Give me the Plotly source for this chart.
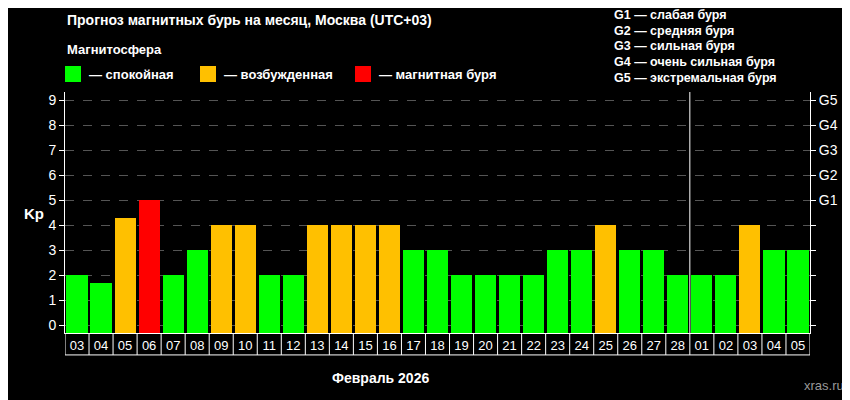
import plotly.graph_objects as go

days = ["03","04","05","06","07","08","09","10","11","12","13","14","15","16","17","18","19","20","21","22","23","24","25","26","27","28","01","02","03","04","05"]
kp = [2,1.7,4.3,5,2,3,4,4,2,2,4,4,4,4,3,3,2,2,2,2,3,3,4,3,3,2,2,2,4,3,3]
g_labels = ["G1","G2","G3","G4","G5"]
g_desc = ["G1 — слабая буря","G2 — средняя буря","G3 — сильная буря","G4 — очень сильная буря","G5 — экстремальная буря"]

BASE = -0.32
def col(v):
    if v >= 5: return "#ff0000"
    if v >= 4: return "#ffc000"
    return "#00ff00"

x = list(range(len(days)))
fig = go.Figure()
fig.add_trace(go.Bar(x=x, y=[v - BASE for v in kp], base=BASE, width=0.88,
                     marker=dict(color=[col(v) for v in kp], line=dict(width=0)), showlegend=False))
fig.add_trace(go.Scatter(x=[0], y=[0], yaxis="y2", mode="markers", marker=dict(opacity=0), showlegend=False, hoverinfo="skip"))

F = "Liberation Sans, Arial"
fig.update_layout(
    width=842, height=392, paper_bgcolor="black", plot_bgcolor="black",
    margin=dict(l=57, r=40, t=84, b=67), font=dict(family=F, color="white", size=13),
    bargap=0,
    xaxis=dict(range=[-0.5, len(days)-0.5], tickvals=x, ticktext=days, showgrid=False,
               ticks="", zeroline=False, tickfont=dict(size=13, color="white"), showline=True, linecolor="white"),
    yaxis=dict(range=[-0.32, 9.32], tickvals=list(range(10)), showgrid=True, gridcolor="#555",
               griddash="dash", zeroline=False, showline=True, linecolor="white", ticks="outside",
               ticklen=5, tickcolor="white", tickfont=dict(size=14, color="white")),
    yaxis2=dict(range=[-0.32, 9.32], overlaying="y", side="right", tickvals=list(range(10)),
                ticktext=[""]*5 + g_labels, showgrid=False, zeroline=False, showline=True, linecolor="white",
                ticks="outside", ticklen=5, tickcolor="white", tickfont=dict(size=14, color="white")),
)

shapes = []
shapes.append(dict(type="line", xref="x", yref="paper", x0=25.5, x1=25.5, y0=0, y1=1, line=dict(color="white", width=1)))
for i in range(len(days)+1):
    shapes.append(dict(type="line", xref="x", yref="paper", x0=i-0.5, x1=i-0.5, y0=0, y1=-0.091, line=dict(color="white", width=1)))
shapes.append(dict(type="line", xref="paper", yref="paper", x0=0, x1=1, y0=-0.091, y1=-0.091, line=dict(color="white", width=1)))
for px, c in [(65, "#00ff00"), (200, "#ffc000"), (355, "#ff0000")]:
    shapes.append(dict(type="rect", xref="paper", yref="paper",
                       x0=(px-65)/745, x1=(px-65+16)/745, y0=(333-82)/241, y1=(333-66)/241,
                       fillcolor=c, line=dict(width=0)))
fig.update_layout(shapes=shapes)

def pann(px, py, text, size=13, bold=True, color="white", xanchor="left"):
    fig.add_annotation(xref="paper", yref="paper", x=(px-65)/745, y=(333-py)/241, text=("<b>%s</b>" % text) if bold else text,
                       showarrow=False, xanchor=xanchor, yanchor="middle", font=dict(size=size, color=color, family=F))

pann(65, 20, "Прогноз магнитных бурь на месяц, Москва (UTC+03)", 14)
pann(65, 50, "Магнитосфера", 13)
pann(87, 74, "— спокойная", 13)
pann(222, 74, "— возбужденная", 13)
pann(377, 74, "— магнитная буря", 13)
for i, t in enumerate(g_desc):
    pann(612, 15 + i*15.7, t, 12.5)
pann(22, 213, "Kp", 15)
pann(380, 378, "Февраль 2026", 14, xanchor="center")
pann(846, 385, "xras.ru", 13, bold=False, color="#999", xanchor="right")

fig.write_html("out.html")
